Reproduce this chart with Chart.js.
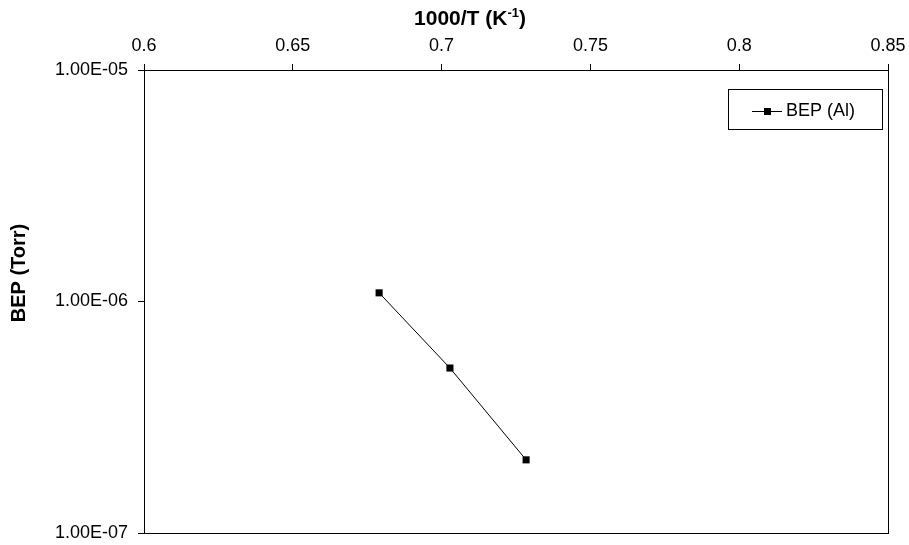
<!DOCTYPE html>
<html>
<head>
<meta charset="utf-8">
<script src="https://cdn.jsdelivr.net/npm/chart.js@4.4.1/dist/chart.umd.min.js"></script>
<style>
  html, body { margin: 0; padding: 0; background: #fff; }
  #wrap { width: 909px; height: 545px; }
</style>
</head>
<body>
<div id="wrap"><canvas id="chart" width="909" height="545"></canvas></div>
<script>
// Data
const seriesLabel = 'BEP (Al)';
const invTemp = [0.679, 0.7028, 0.7284];        // 1000/T (K^-1)
const bepValues = [1.09e-6, 5.16e-7, 2.07e-7]; // Torr
const xTicks = [0.6, 0.65, 0.7, 0.75, 0.8, 0.85];
const yTicks = [1e-7, 1e-6, 1e-5];

const FONT = '"Liberation Sans", Arial, sans-serif';

// Plot area edges in the reference
const AREA = { left: 144, top: 70, right: 888, bottom: 533 };

function sciLabel(v) {
  const exp = Math.round(Math.log10(v));
  const mant = v / Math.pow(10, exp);
  const sign = exp < 0 ? '-' : '+';
  return mant.toFixed(2) + 'E' + sign + String(Math.abs(exp)).padStart(2, '0');
}

// frame, axis titles and legend box
const decorations = {
  id: 'decorations',
  afterDraw(chart) {
    const ctx = chart.ctx;
    const ca = chart.chartArea;
    ctx.save();
    ctx.strokeStyle = '#000';
    ctx.lineWidth = 1;
    ctx.strokeRect(Math.round(ca.left) + 0.5, Math.round(ca.top) + 0.5,
      Math.round(ca.right - ca.left), Math.round(ca.bottom - ca.top));

    // x title with superscript
    ctx.fillStyle = '#000';
    ctx.textBaseline = 'alphabetic';
    ctx.textAlign = 'left';
    ctx.font = 'bold 21px ' + FONT;
    const p1 = '1000/T (K';
    const w1 = ctx.measureText(p1).width;
    ctx.font = 'bold 13px ' + FONT;
    const sup = '-1';
    const ws = ctx.measureText(sup).width;
    ctx.font = 'bold 21px ' + FONT;
    const w2 = ctx.measureText(')').width;
    const total = w1 + ws + w2;
    let x = 470 - total / 2;
    const base = 25;
    ctx.fillText(p1, x, base);
    x += w1;
    ctx.font = 'bold 13px ' + FONT;
    ctx.fillText(sup, x, base - 8);
    x += ws;
    ctx.font = 'bold 21px ' + FONT;
    ctx.fillText(')', x, base);

    // y title
    ctx.save();
    ctx.translate(25, 273);
    ctx.rotate(-Math.PI / 2);
    ctx.textAlign = 'center';
    ctx.textBaseline = 'alphabetic';
    ctx.font = 'bold 20px ' + FONT;
    ctx.fillText('BEP (Torr)', 0, 0);
    ctx.restore();

    // legend
    const lx = 728.5, ly = 89.5, lw = 154, lh = 40;
    ctx.fillStyle = '#fff';
    ctx.fillRect(lx, ly, lw, lh);
    ctx.strokeStyle = '#000';
    ctx.strokeRect(lx, ly, lw, lh);
    const ds = chart.data.datasets[0];
    const my = 111.5;
    ctx.beginPath();
    ctx.moveTo(752, my);
    ctx.lineTo(782, my);
    ctx.strokeStyle = ds.borderColor;
    ctx.stroke();
    ctx.fillStyle = ds.pointBackgroundColor;
    ctx.fillRect(764, my - 3.5, 7, 7);
    ctx.fillStyle = '#000';
    ctx.font = '18px ' + FONT;
    ctx.textAlign = 'left';
    ctx.textBaseline = 'middle';
    ctx.fillText(ds.label, 786, my);
    ctx.restore();
  }
};

new Chart(document.getElementById('chart').getContext('2d'), {
  type: 'line',
  data: {
    datasets: [{
      label: seriesLabel,
      data: invTemp.map((x, i) => ({ x, y: bepValues[i] })),
      borderColor: '#000',
      borderWidth: 1,
      pointStyle: 'rect',
      pointRadius: 5,
      pointBorderWidth: 0,
      pointBackgroundColor: '#000',
      pointBorderColor: '#000',
      tension: 0,
      fill: false
    }]
  },
  options: {
    responsive: false,
    animation: false,
    layout: {
      padding: { left: 0, top: 0, right: 909 - AREA.right, bottom: 545 - AREA.bottom }
    },
    plugins: {
      legend: { display: false },
      tooltip: { enabled: false }
    },
    scales: {
      x: {
        type: 'linear',
        position: 'top',
        min: 0.6,
        max: 0.85,
        afterBuildTicks(scale) {
          scale.ticks = xTicks.map(v => ({ value: v }));
        },
        afterFit(scale) {
          scale.height = AREA.top;
          scale.paddingLeft = 0;
          scale.paddingRight = 0;
        },
        ticks: {
          color: '#000',
          font: { family: FONT, size: 18 },
          padding: 7,
          maxRotation: 0,
          callback: v => String(v)
        },
        grid: {
          drawOnChartArea: false,
          drawTicks: true,
          tickLength: 6,
          color: '#000'
        },
        border: { display: true, color: '#000' }
      },
      y: {
        type: 'logarithmic',
        min: 1e-7,
        max: 1e-5,
        afterBuildTicks(scale) {
          scale.ticks = yTicks.map(v => ({ value: v, major: true }));
        },
        afterFit(scale) {
          scale.width = AREA.left;
          scale.paddingTop = 0;
          scale.paddingBottom = 0;
        },
        ticks: {
          color: '#000',
          font: { family: FONT, size: 18 },
          padding: 10,
          callback: v => sciLabel(v)
        },
        grid: {
          drawOnChartArea: false,
          drawTicks: true,
          tickLength: 6,
          color: '#000'
        },
        border: { display: true, color: '#000' }
      }
    }
  },
  plugins: [decorations]
});
</script>
</body>
</html>
